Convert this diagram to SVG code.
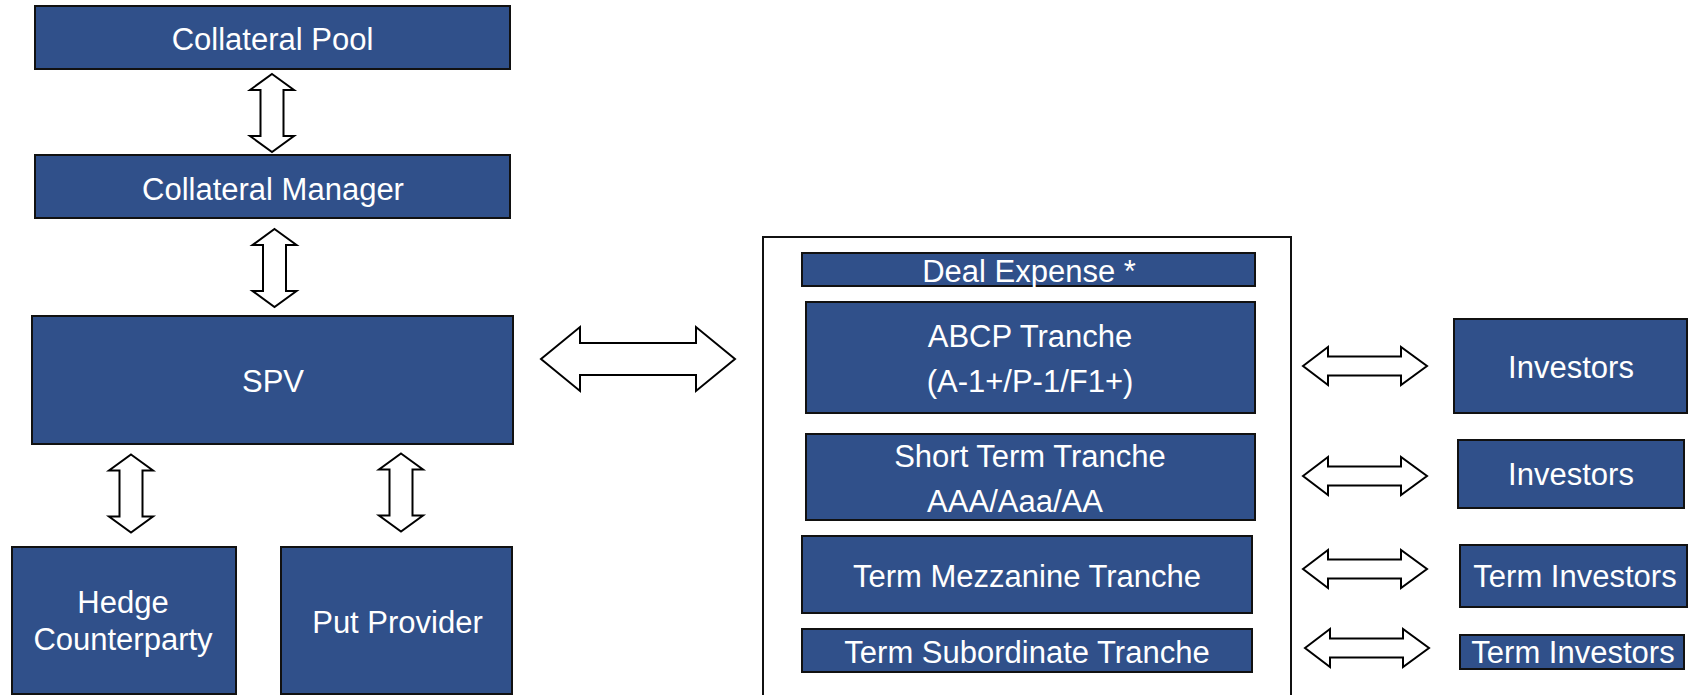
<svg xmlns="http://www.w3.org/2000/svg" width="1695" height="695" viewBox="0 0 1695 695">
<style>
.box{fill:#30508A;stroke:#111;stroke-width:2}
.lbl{fill:#fff;font-family:"Liberation Sans",Arial,sans-serif;font-size:31px;text-anchor:middle}
.arr{fill:#fff;stroke:#000;stroke-width:2;stroke-linejoin:miter}
.frame{fill:none;stroke:#111;stroke-width:2}
</style>
<defs>
<path id="varr" class="arr" d="M0,-39 L22,-23 L11.5,-23 L11.5,23 L22,23 L0,39 L-22,23 L-11.5,23 L-11.5,-23 L-22,-23 Z"/>
<path id="harr" class="arr" d="M-62,0 L-37,-19 L-37,-9.5 L36,-9.5 L36,-19 L62,0 L36,19 L36,9.5 L-37,9.5 L-37,19 Z"/>
</defs>
<rect id="frame" class="frame" x="763" y="237" width="528" height="480"/>
<g id="connectors">
<use href="#varr" transform="translate(272,113)"/>
<use href="#varr" transform="translate(274.5,268)"/>
<use href="#varr" transform="translate(131,493.5)"/>
<use href="#varr" transform="translate(401,492.5)"/>
<path class="arr" d="M541,359 L580,327 L580,343 L696,343 L696,327 L735,359 L696,391 L696,375 L580,375 L580,391 Z"/>
<use href="#harr" transform="translate(1365,366)"/>
<use href="#harr" transform="translate(1365,476)"/>
<use href="#harr" transform="translate(1365,569)"/>
<use href="#harr" transform="translate(1367,648)"/>
</g>
<g id="collateral-pool"><rect class="box" x="35" y="6" width="475" height="63"/><text class="lbl" x="272.5" y="50">Collateral Pool</text></g>
<g id="collateral-manager"><rect class="box" x="35" y="155" width="475" height="63"/><text class="lbl" x="273" y="200">Collateral Manager</text></g>
<g id="spv"><rect class="box" x="32" y="316" width="481" height="128"/><text class="lbl" x="273" y="392">SPV</text></g>
<g id="hedge-counterparty"><rect class="box" x="12" y="547" width="224" height="147"/><text class="lbl" x="123" y="613">Hedge</text><text class="lbl" x="123" y="650">Counterparty</text></g>
<g id="put-provider"><rect class="box" x="281" y="547" width="231" height="147"/><text class="lbl" x="397.5" y="633">Put Provider</text></g>
<g id="deal-expense"><rect class="box" x="802" y="253" width="453" height="33"/><text class="lbl" x="1029" y="282">Deal Expense *</text></g>
<g id="abcp-tranche"><rect class="box" x="806" y="302" width="449" height="111"/><text class="lbl" x="1030" y="347">ABCP Tranche</text><text class="lbl" x="1030" y="392">(A-1+/P-1/F1+)</text></g>
<g id="short-term-tranche"><rect class="box" x="806" y="434" width="449" height="86"/><text class="lbl" x="1030" y="467">Short Term Tranche</text><text class="lbl" x="1015" y="512">AAA/Aaa/AA</text></g>
<g id="term-mezzanine-tranche"><rect class="box" x="802" y="536" width="450" height="77"/><text class="lbl" x="1027" y="587">Term Mezzanine Tranche</text></g>
<g id="term-subordinate-tranche"><rect class="box" x="802" y="629" width="450" height="43"/><text class="lbl" x="1027" y="663">Term Subordinate Tranche</text></g>
<g id="investors-1"><rect class="box" x="1454" y="319" width="233" height="94"/><text class="lbl" x="1571" y="378">Investors</text></g>
<g id="investors-2"><rect class="box" x="1458" y="440" width="226" height="68"/><text class="lbl" x="1571" y="485">Investors</text></g>
<g id="term-investors-1"><rect class="box" x="1460" y="545" width="227" height="62"/><text class="lbl" x="1575" y="587">Term Investors</text></g>
<g id="term-investors-2"><rect class="box" x="1460" y="635" width="224" height="34"/><text class="lbl" x="1573" y="663">Term Investors</text></g>
</svg>
